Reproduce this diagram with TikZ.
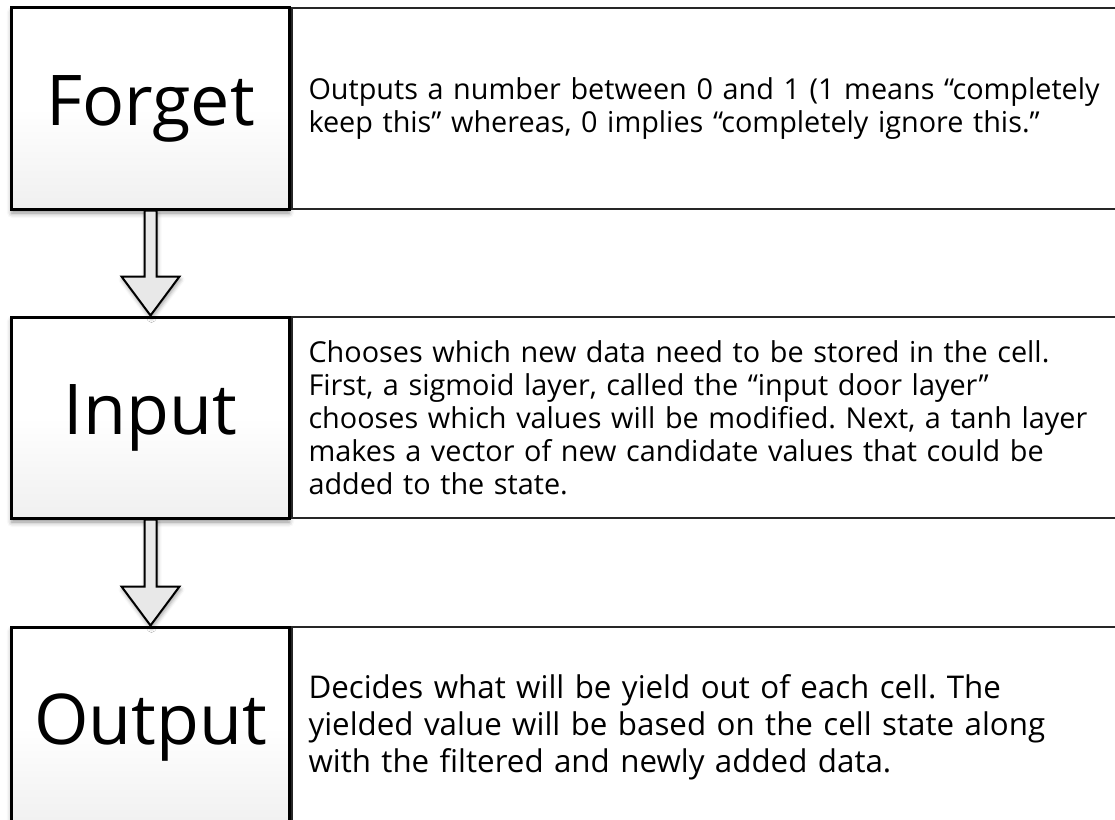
\documentclass[tikz,border=0pt]{standalone}
\usepackage{fontspec}
\setmainfont{Open Sans}
\frenchspacing
\usetikzlibrary{positioning,shadows.blur}

\begin{document}
\begin{tikzpicture}[
  x=1bp, y=1bp,
  gate/.style={rectangle, draw, line width=3bp, minimum width=277bp,
               minimum height=201bp, top color=white, bottom color=black!6,
               middle color=white, font=\fontsize{70bp}{84bp}\selectfont,
               blur shadow={shadow xshift=0bp, shadow yshift=-4bp,
                            shadow blur radius=5bp, shadow opacity=45}},
  info/.style={rectangle, draw=black!85, line width=2bp, fill=white,
               minimum height=201bp, text width=826bp, inner xsep=17bp,
               align=left, font=\fontsize{28.8bp}{33bp}\selectfont},
  flow/.style={draw, line width=2bp, fill=black!9, line join=miter,
               blur shadow={shadow xshift=1bp, shadow yshift=-3bp,
                            shadow blur radius=4bp, shadow opacity=40}}
]
  \useasboundingbox (0,0) rectangle (1115,-820);

  % the three gates
  \node[gate] (forget) at (150.5,-108.5) {Forget};
  \node[gate, below=105bp of forget] (input) {Input};
  \node[gate, below=106bp of input] (output) {Output};

  % what each gate does
  \node[info, right=0pt of forget] (forgetinfo)
    {Outputs a number between 0 and 1 (1 means “completely\\
     keep this” whereas, 0 implies “completely ignore this.”};
  \node[info, right=0pt of input] (inputinfo)
    {Chooses which new data need to be stored in the cell.\\
     First, a sigmoid layer, called the “input door layer”\\
     chooses which values will be modified. Next, a tanh layer\\
     makes a vector of new candidate values that could be\\
     added to the state.};
  \node[info, right=0pt of output, font=\fontsize{31.3bp}{37bp}\selectfont] (outputinfo)
    {Decides what will be yield out of each cell. The\\
     yielded value will be based on the cell state along\\
     with the filtered and newly added data.};

  % block arrows between gates
  \draw[flow] ([xshift=-6bp]forget.south) -- ++(0,-66) -- ++(-23,0)
    -- (input.north) -- ++(29,39) -- ++(-23,0) -- ([xshift=6bp]forget.south) -- cycle;
  \draw[flow] ([xshift=-6bp]input.south) -- ++(0,-67) -- ++(-23,0)
    -- (output.north) -- ++(29,39) -- ++(-23,0) -- ([xshift=6bp]input.south) -- cycle;
\end{tikzpicture}
\end{document}
